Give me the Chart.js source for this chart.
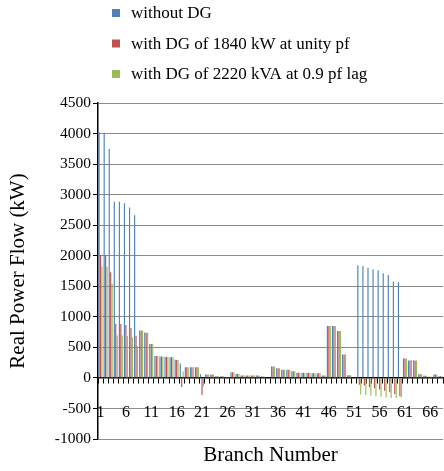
<!DOCTYPE html>
<html><head><meta charset="utf-8">
<script src="https://cdn.jsdelivr.net/npm/chart.js@4/dist/chart.umd.min.js"></script>
<style>html,body{margin:0;padding:0;background:#fff}#wrap{width:444px;height:471px}</style>
</head><body><div id="wrap"><canvas id="c" width="444" height="471"></canvas></div>
<script>
const branches = [1,2,3,4,5,6,7,8,9,10,11,12,13,14,15,16,17,18,19,20,21,22,23,24,25,26,27,28,29,30,31,32,33,34,35,36,37,38,39,40,41,42,43,44,45,46,47,48,49,50,51,52,53,54,55,56,57,58,59,60,61,62,63,64,65,66,67,68];
const withoutDG = [4020,4015,3745,2886,2884,2860,2790,2662,776,742,
  556,358,350,345,340,296,236,176,176,175,
  61,56,56,28,28,14,91,65,40,40,
  40,40,25,6,186,160,134,134,110,86,
  84,84,78,78,39,850,850,768,385,44,
  4,1845,1832,1805,1780,1763,1715,1686,1578,1566,
  318,286,286,59,36,18,56,28];
const dgUnity = [2013,2012,1730,885,884,868,815,690,775,741,
  555,357,349,344,339,295,-150,176,175,175,
  -280,56,56,28,28,14,91,65,40,40,
  40,40,25,6,186,160,134,134,110,86,
  84,84,78,78,39,850,850,768,385,44,
  4,-110,-125,-150,-170,-190,-210,-235,-265,-300,
  318,286,286,59,36,18,56,28];
const dgLag = [1822,1820,1540,694,693,688,665,520,775,741,
  555,357,349,344,339,295,110,176,175,175,
  -140,56,56,28,28,14,91,65,40,40,
  40,40,25,6,186,160,134,134,110,86,
  84,84,78,78,39,850,850,768,385,44,
  4,-270,-280,-290,-300,-310,-320,-330,-330,-320,
  318,286,286,59,36,18,56,28];
const seriesNames = ['without DG','with DG of 1840 kW at unity pf','with DG of 2220 kVA at 0.9 pf lag'];
const yMin = -1000, yMax = 4500, yStep = 500;

const FONT = '"Liberation Serif", "Times New Roman", serif';

const legendPlugin = {
  id: 'customLegend',
  afterDraw(chart) {
    const ctx = chart.ctx;
    const rows = [13, 43.5, 74];
    ctx.save();
    chart.data.datasets.forEach((ds, i) => {
      ctx.fillStyle = ds.backgroundColor;
      ctx.fillRect(112, rows[i] - 4, 8, 8);
      ctx.fillStyle = '#000';
      ctx.font = '17px ' + FONT;
      ctx.textBaseline = 'middle';
      ctx.textAlign = 'left';
      ctx.fillText(ds.label, 131, rows[i] + 1);
    });
    ctx.restore();
  }
};

new Chart(document.getElementById('c').getContext('2d'), {
  type: 'bar',
  data: {
    labels: branches,
    datasets: [
      {label: seriesNames[0], data: withoutDG, backgroundColor: '#4F81BD'},
      {label: seriesNames[1], data: dgUnity, backgroundColor: '#C0504D'},
      {label: seriesNames[2], data: dgLag, backgroundColor: '#9BBB59'}
    ]
  },
  options: {
    responsive: false,
    animation: false,
    devicePixelRatio: 1,
    layout: {padding: {top: 103, left: 0, right: 1, bottom: 0}},
    datasets: {bar: {categoryPercentage: 0.85, barPercentage: 0.8}},
    plugins: {
      legend: {display: false},
      tooltip: {enabled: false}
    },
    scales: {
      x: {
        type: 'category',
        position: {y: 0},
        grid: {display: true, drawOnChartArea: false, drawTicks: true, tickLength: 5, tickColor: '#000', offset: true},
        border: {display: true, color: '#000', width: 1.5},
        ticks: {
          autoSkip: false, maxRotation: 0, minRotation: 0, padding: 0, color: '#000',
          font: {family: FONT, size: 16, lineHeight: 3.75},
          callback: (v, i) => (i % 5 === 0 ? String(branches[i]) : '')
        }
      },
      x2: {
        type: 'category',
        position: 'bottom',
        grid: {display: false, drawTicks: false},
        border: {display: false},
        ticks: {display: false},
        title: {display: true, text: 'Branch Number', color: '#000',
          font: {family: FONT, size: 21, weight: 'normal'}, padding: {top: 3.4, bottom: 3.4}}
      },
      y: {
        min: yMin, max: yMax,
        ticks: {stepSize: yStep, color: '#000', padding: 2, font: {family: FONT, size: 15.5},
          callback: (v) => String(v)},
        grid: {color: '#8a8a8a', lineWidth: 1, tickColor: '#000', tickLength: 5},
        border: {color: '#000', width: 1.5},
        title: {display: true, text: 'Real Power Flow (kW)', color: '#000',
          font: {family: FONT, size: 21, weight: 'normal'}, padding: {top: 5.4, bottom: 0}},
        afterFit: (s) => { s.width = 98; }
      }
    }
  },
  plugins: [legendPlugin]
});
</script>
</body></html>
